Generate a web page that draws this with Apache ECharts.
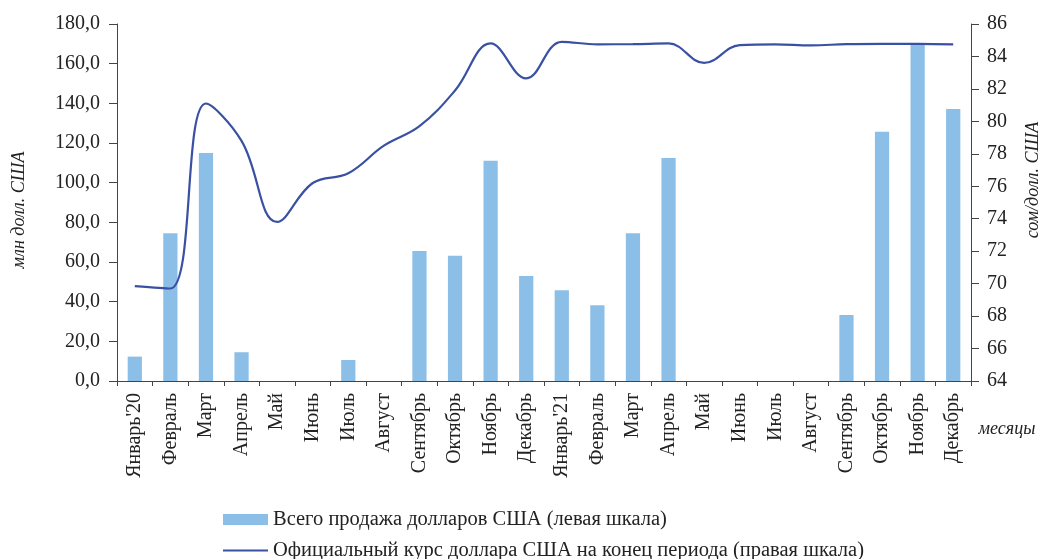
<!DOCTYPE html>
<html>
<head>
<meta charset="utf-8">
<script src="https://cdn.jsdelivr.net/npm/echarts@6/dist/echarts.min.js"></script>
<style>
  html, body { margin: 0; padding: 0; background: #fff; }
  #chart { width: 1042px; height: 559px; }
</style>
</head>
<body>
<div id="chart"></div>
<script>
// месяцы 2020-2021
const months = ["Январь'20", 'Февраль', 'Март', 'Апрель', 'Май', 'Июнь', 'Июль', 'Август',
  'Сентябрь', 'Октябрь', 'Ноябрь', 'Декабрь', "Январь'21", 'Февраль', 'Март', 'Апрель',
  'Май', 'Июнь', 'Июль', 'Август', 'Сентябрь', 'Октябрь', 'Ноябрь', 'Декабрь']

// продажа долларов, млн долл. США (левая шкала)
const sales = [12.3, 74.5, 115.0, 14.5, 0, 0, 10.6, 0, 65.6, 63.1, 111.1, 53.0,
  45.8, 38.2, 74.5, 112.5, 0, 0, 0, 0, 33.3, 125.7, 170.2, 137.2]

// официальный курс на конец периода, сом/долл. (правая шкала)
const rate = [69.85, 69.7, 81.1, 78.8, 73.8, 76.2, 76.8, 78.5, 79.7, 81.9, 84.8, 82.65,
  84.9, 84.75, 84.76, 84.8, 83.6, 84.7, 84.75, 84.68, 84.76, 84.78, 84.78, 84.74]

const salesName = 'Всего продажа долларов США (левая шкала)'
const rateName = 'Официальный курс доллара США на конец периода (правая шкала)'

const font = 'Liberation Serif, Times New Roman, serif'
const axisColor = '#444'
const legendText = { fontFamily: font, fontSize: 20.5, color: '#222' }

const chart = echarts.init(document.getElementById('chart'))
chart.setOption({
  animation: false,
  textStyle: { fontFamily: font, color: '#222' },
  grid: { left: 117, right: 71, top: 24, bottom: 178 },
  legend: [
    {
      left: 218, top: 504,
      itemWidth: 45, itemHeight: 11, itemGap: 0,
      textStyle: legendText,
      data: [{ name: salesName, icon: 'rect' }]
    },
    {
      left: 218, top: 535,
      itemWidth: 45, itemHeight: 2, itemGap: 0,
      textStyle: legendText,
      data: [{ name: rateName, icon: 'path://M0,0H45V2H0Z' }]
    }
  ],
  xAxis: {
    type: 'category',
    data: months,
    axisLine: { lineStyle: { color: axisColor, width: 1 } },
    axisTick: { show: true, length: 5, lineStyle: { color: axisColor } },
    axisLabel: { rotate: 90, interval: 0, fontSize: 20, color: '#222', margin: 12, fontFamily: font }
  },
  yAxis: [
    {
      type: 'value',
      min: 0, max: 180, interval: 20,
      splitLine: { show: false },
      axisLine: { show: true, lineStyle: { color: axisColor } },
      axisTick: { show: true, length: 8, lineStyle: { color: axisColor } },
      axisLabel: { fontSize: 20, color: '#222', margin: 17, fontFamily: font,
        formatter: v => v.toFixed(1).replace('.', ',') }
    },
    {
      type: 'value',
      min: 64, max: 86, interval: 2,
      position: 'right',
      splitLine: { show: false },
      axisLine: { show: true, lineStyle: { color: axisColor } },
      axisTick: { show: true, length: 8, lineStyle: { color: axisColor } },
      axisLabel: { fontSize: 20, color: '#222', margin: 16, fontFamily: font }
    }
  ],
  series: [
    {
      name: salesName,
      type: 'bar',
      data: sales,
      yAxisIndex: 0,
      barWidth: '40%',
      itemStyle: { color: '#8cbfe7' }
    },
    {
      name: rateName,
      type: 'line',
      data: rate,
      yAxisIndex: 1,
      smooth: 0.4,
      symbol: 'none',
      lineStyle: { color: '#3a51a3', width: 2.2 },
      itemStyle: { color: '#3a51a3' }
    }
  ],
  graphic: [
    { type: 'text', x: 19, y: 210, rotation: Math.PI / 2,
      style: { text: 'млн долл. США', font: 'italic 18px ' + font, fill: '#222', align: 'center', verticalAlign: 'middle' } },
    { type: 'text', x: 1033, y: 180, rotation: Math.PI / 2,
      style: { text: 'сом/долл. США', font: 'italic 18px ' + font, fill: '#222', align: 'center', verticalAlign: 'middle' } },
    { type: 'text', x: 1007, y: 429,
      style: { text: 'месяцы', font: 'italic 18px ' + font, fill: '#222', align: 'center', verticalAlign: 'middle' } }
  ]
})
</script>
</body>
</html>
